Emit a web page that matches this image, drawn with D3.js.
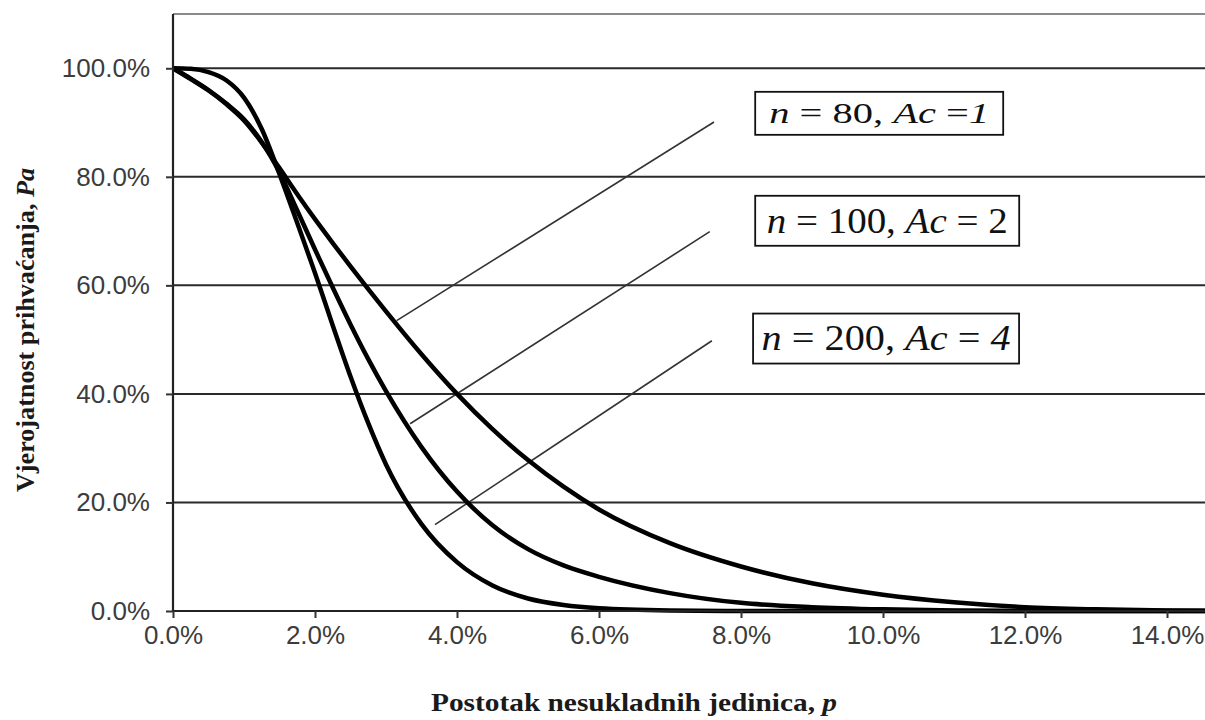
<!DOCTYPE html>
<html>
<head>
<meta charset="utf-8">
<script src="https://cdn.jsdelivr.net/npm/d3@7"></script>
<style>
  body { margin: 0; background: #fff; }
  svg { display: block; }
</style>
</head>
<body>
<svg id="grafico" width="1205" height="720"></svg>
<script>

//DATI

var postoci = [0, 0.25, 0.5, 0.75, 1, 1.25, 1.5, 1.75, 2, 2.25, 2.5, 2.75, 3, 3.5, 4, 4.5, 5, 5.5, 6, 7, 8, 9, 10, 11, 12, 13, 14, 15, 16];

var pa80  = [100, 98.0, 95.9, 93.4, 90.4, 86.3, 81.6, 76.8, 72.2, 67.8, 63.5, 59.3, 55.2, 47.3, 40.0, 33.5, 27.8, 22.9, 18.7, 12.5, 8.2, 5.1, 3.0, 1.6, 0.7, 0.3, 0.1, 0.05, 0];
var pa100 = [100, 98.1, 96.0, 93.5, 90.6, 86.4, 80.8, 73.8, 66.6, 59.6, 52.8, 46.4, 40.5, 30.2, 22.0, 15.8, 11.4, 8.4, 6.3, 3.3, 1.5, 0.7, 0.3, 0.1, 0, 0, 0, 0, 0];
var pa200 = [100, 99.9, 99.3, 97.8, 94.6, 88.8, 80.5, 71.5, 62.3, 52.6, 43.2, 34.6, 27.0, 16.0, 9.0, 4.7, 2.3, 1.1, 0.5, 0.1, 0, 0, 0, 0, 0, 0, 0, 0, 0];

var tickX = [0, 2, 4, 6, 8, 10, 12, 14];
var tickY = [0, 20, 40, 60, 80, 100];

// etichette: testo a pezzi (corsivo o no), punto di attacco della linea
var etichette = [
    { pezzi: [["n", 1], [" = 80, ", 0], ["Ac", 1], [" =", 0], ["1", 1]], p: 8.2, pa: 91.7, linea: [3.15, 53.5, 7.62, 90.1] },
    { pezzi: [["n", 1], [" = 100, ", 0], ["Ac", 1], [" = 2", 0]], p: 8.2, pa: 71.9, linea: [3.34, 34.5, 7.56, 69.9] },
    { pezzi: [["n", 1], [" = 200, ", 0], ["Ac", 1], [" = ", 0], ["4", 1]], p: 8.17, pa: 50.2, linea: [3.69, 15.9, 7.59, 49.8] }
];

//SCALE

var svg = d3.select("#grafico");

var sinistra = 173;
var fondo = 611;

var x = d3.scaleLinear().domain([0, 16]).range([sinistra, sinistra + 1136]);
var y = d3.scaleLinear().domain([0, 110]).range([fondo, 14]);

var destra = 1205;

svg.append("defs").append("clipPath").attr("id", "taglio")
    .append("rect")
    .attr("x", sinistra).attr("y", 0)
    .attr("width", destra - sinistra).attr("height", fondo + 8);

//GRIGLIA

svg.append("g")
    .selectAll("line")
    .data(tickY.filter(d => d > 0))
    .enter()
    .append("line")
    .attr("x1", sinistra)
    .attr("x2", destra)
    .attr("y1", d => y(d))
    .attr("y2", d => y(d))
    .attr("stroke", "#2a2a2a")
    .attr("stroke-width", 2);

// bordo superiore
svg.append("line")
    .attr("x1", sinistra).attr("x2", destra)
    .attr("y1", y(110)).attr("y2", y(110))
    .attr("stroke", "#8a8a8a")
    .attr("stroke-width", 2);

//LINEE DELLE ETICHETTE

svg.append("g")
    .selectAll("line")
    .data(etichette)
    .enter()
    .append("line")
    .attr("x1", d => x(d.linea[0]))
    .attr("y1", d => y(d.linea[1]))
    .attr("x2", d => x(d.linea[2]))
    .attr("y2", d => y(d.linea[3]))
    .attr("stroke", "#333")
    .attr("stroke-width", 1.6);

//CURVE

var serie = [pa80, pa100, pa200];

var linea = d3.line()
    .x((d, i) => x(postoci[i]))
    .y(d => y(d))
    .curve(d3.curveMonotoneX);

svg.append("g")
    .attr("clip-path", "url(#taglio)")
    .selectAll("path")
    .data(serie)
    .enter()
    .append("path")
    .attr("d", d => linea(d))
    .attr("fill", "none")
    .attr("stroke", "#000")
    .attr("stroke-width", 4.5)
    .attr("stroke-linejoin", "round");

//ASSI

var assex = svg.append("g")
    .attr("transform", "translate(0," + fondo + ")")
    .call(d3.axisBottom(x).tickValues(tickX).tickSize(7).tickPadding(8)
        .tickFormat(d => d.toFixed(1) + "%"));

var assey = svg.append("g")
    .attr("transform", "translate(" + sinistra + ",0)")
    .call(d3.axisLeft(y).tickValues(tickY).tickSize(7).tickPadding(16)
        .tickFormat(d => d.toFixed(1) + "%"));

assex.select(".domain").attr("d", "M" + sinistra + ",0H" + destra);
assey.select(".domain").attr("d", "M0," + y(110) + "V" + fondo);

[assex, assey].forEach(a => {
    a.select(".domain").attr("stroke", "#222").attr("stroke-width", 2.2);
    a.selectAll(".tick line").attr("stroke", "#333").attr("stroke-width", 2);
    a.selectAll(".tick text")
        .attr("fill", "#3c3c3c")
        .style("font-family", "'Liberation Sans', Arial, sans-serif")
        .style("font-size", "26px");
});

//TITOLI

svg.append("text")
    .attr("x", 431)
    .attr("y", 711)
    .attr("textLength", 406)
    .attr("lengthAdjust", "spacingAndGlyphs")
    .style("font-family", "'Liberation Serif', 'Times New Roman', serif")
    .style("font-size", "26px")
    .style("font-weight", "bold")
    .attr("fill", "#1a1a1a")
    .call(t => {
        t.append("tspan").text("Postotak nesukladnih jedinica, ");
        t.append("tspan").style("font-style", "italic").text("p");
    });

svg.append("text")
    .attr("transform", "translate(34,492) rotate(-90)")
    .attr("textLength", 324)
    .attr("lengthAdjust", "spacingAndGlyphs")
    .style("font-family", "'Liberation Serif', 'Times New Roman', serif")
    .style("font-size", "25px")
    .style("font-weight", "bold")
    .attr("fill", "#1a1a1a")
    .call(t => {
        t.append("tspan").text("Vjerojatnost prihvaćanja, ");
        t.append("tspan").style("font-style", "italic").text("Pa");
    });

//ETICHETTE

var dimensioni = [
    { w: 248, h: 43, font: 30, testo: 220 },
    { w: 264, h: 50, font: 36, testo: 241 },
    { w: 266, h: 50, font: 36, testo: 249 }
];

etichette.forEach((e, i) => {

    var dim = dimensioni[i];
    var gx = x(e.p);
    var gy = y(e.pa);

    var g = svg.append("g").attr("transform", "translate(" + gx + "," + gy + ")");

    g.append("rect")
        .attr("x", 0)
        .attr("y", -dim.h / 2)
        .attr("width", dim.w)
        .attr("height", dim.h)
        .attr("fill", "#fff")
        .attr("stroke", "#111")
        .attr("stroke-width", 1.8);

    var t = g.append("text")
        .attr("x", (dim.w - dim.testo) / 2)
        .attr("y", dim.font * 0.33)
        .attr("textLength", dim.testo)
        .attr("lengthAdjust", "spacingAndGlyphs")
        .style("font-family", "'Liberation Serif', 'Times New Roman', serif")
        .style("font-size", dim.font + "px")
        .attr("fill", "#111");

    e.pezzi.forEach(pz => {
        t.append("tspan")
            .style("font-style", pz[1] ? "italic" : "normal")
            .text(pz[0]);
    });

});

</script>
</body>
</html>
